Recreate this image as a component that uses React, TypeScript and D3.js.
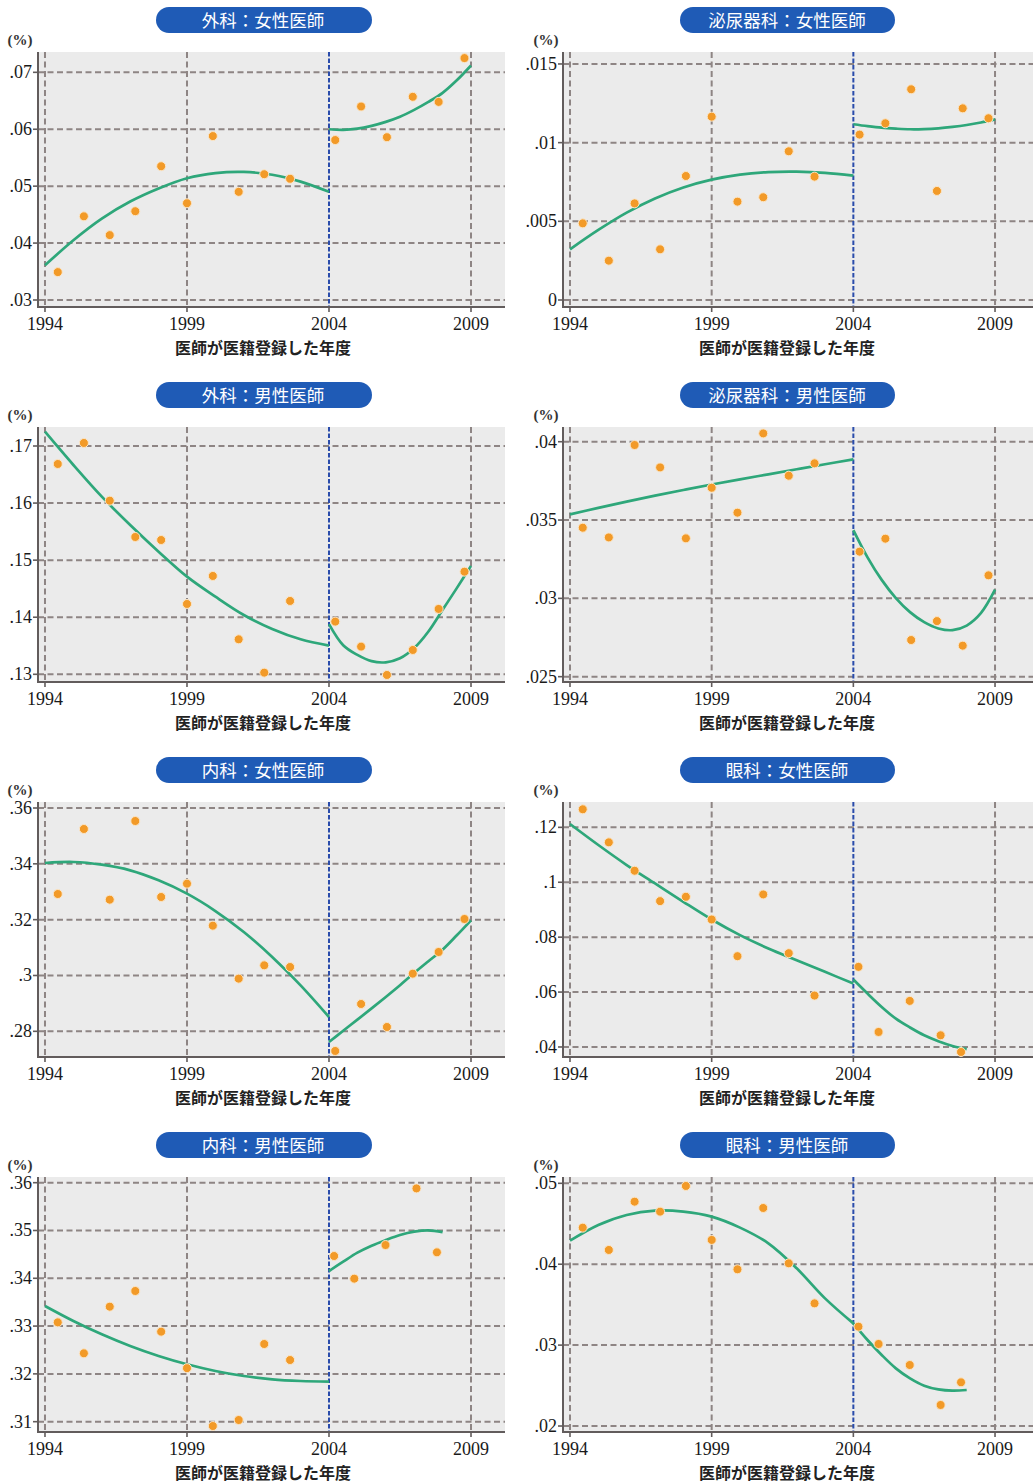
import React from "react";
import * as d3 from "d3";

// ---------- shared x positions ----------
const xPre = [1994.45, 1995.37, 1996.28, 1997.18, 1998.09, 1999.0, 1999.91, 2000.82, 2001.72, 2002.63];
const xPost6 = [2004.22, 2005.13, 2006.04, 2006.95, 2007.86, 2008.77];
const xPost5 = [2004.18, 2004.89, 2005.99, 2007.08, 2007.8];
const fitXPre = [1994, 1995, 1996, 1997, 1998, 1999, 2000, 2001, 2002, 2003, 2004];
const fitXPost6 = [2004, 2004.5, 2005, 2005.5, 2006, 2006.5, 2007, 2007.5, 2008, 2008.5, 2009];
const fitXPost5 = [2004, 2004.5, 2005, 2005.5, 2006, 2006.5, 2007, 2007.5, 2008];
const xTicks = [1994, 1999, 2004, 2009];
const breakYear = 2004;

// ---------- 外科：女性医師 ----------
const surgF_pre = [0.0349, 0.0447, 0.0414, 0.0456, 0.0535, 0.047, 0.0588, 0.049, 0.0521, 0.0513];
const surgF_post = [0.0581, 0.064, 0.0586, 0.0657, 0.0648, 0.0725];
const surgF_fitPre = [0.0361, 0.0405, 0.0443, 0.0473, 0.0496, 0.0514, 0.0523, 0.0525, 0.052, 0.0508, 0.049];
const surgF_fitPost = [0.06, 0.0599, 0.0601, 0.0606, 0.0613, 0.0622, 0.0634, 0.0648, 0.0664, 0.0686, 0.0712];
const surgF_ticks = [0.03, 0.04, 0.05, 0.06, 0.07];
const surgF_domain = [0.02877, 0.07357];

// ---------- 泌尿器科：女性医師 ----------
const uroF_pre = [0.00487, 0.0025, 0.00614, 0.00322, 0.00788, 0.01165, 0.00625, 0.00653, 0.00945, 0.00784];
const uroF_post = [0.01051, 0.01123, 0.01339, 0.00693, 0.01218, 0.01155];
const uroF_fitPre = [0.00322, 0.00445, 0.00555, 0.00645, 0.00715, 0.00765, 0.00797, 0.00813, 0.00816, 0.00808, 0.0079];
const uroF_fitPost = [0.01117, 0.01105, 0.01095, 0.01089, 0.01085, 0.01086, 0.01091, 0.011, 0.01112, 0.01128, 0.01148];
const uroF_ticks = [0, 0.005, 0.01, 0.015];
const uroF_domain = [-0.000445, 0.01576];

// ---------- 外科：男性医師 ----------
const surgM_pre = [0.16685, 0.17053, 0.16042, 0.15406, 0.15353, 0.14232, 0.14723, 0.13613, 0.13029, 0.14285];
const surgM_post = [0.13923, 0.13485, 0.12988, 0.13426, 0.14145, 0.14798];
const surgM_fitPre = [0.1725, 0.16667, 0.16112, 0.15616, 0.15149, 0.14711, 0.1436, 0.14039, 0.13794, 0.13613, 0.13502];
const surgM_fitPost = [0.1388, 0.1351, 0.1334, 0.1323, 0.1321, 0.1328, 0.1346, 0.1375, 0.1413, 0.1451, 0.149];
const surgM_ticks = [0.13, 0.14, 0.15, 0.16, 0.17];
const surgM_domain = [0.12865, 0.17333];

// ---------- 泌尿器科：男性医師 ----------
const uroM_pre = [0.03451, 0.03389, 0.03979, 0.03836, 0.03383, 0.03706, 0.03547, 0.04053, 0.03783, 0.03862];
const uroM_post = [0.03298, 0.03381, 0.02734, 0.02855, 0.02698, 0.03147];
const uroM_fitPre = [0.03536, 0.03578, 0.03618, 0.03656, 0.03692, 0.03727, 0.0376, 0.03792, 0.03824, 0.03856, 0.03887];
const uroM_fitPost = [0.03436, 0.03262, 0.03118, 0.03002, 0.02912, 0.02848, 0.02808, 0.02797, 0.02826, 0.02905, 0.03055];
const uroM_ticks = [0.025, 0.03, 0.035, 0.04];
const uroM_domain = [0.02466, 0.04094];

// ---------- 内科：女性医師 ----------
const intF_pre = [0.32919, 0.35248, 0.32716, 0.35534, 0.32812, 0.3329, 0.31785, 0.29887, 0.30364, 0.30304];
const intF_post = [0.27296, 0.28979, 0.28155, 0.30066, 0.30842, 0.32024];
const intF_fitPre = [0.3403, 0.34066, 0.3397, 0.33767, 0.33409, 0.32931, 0.3231, 0.31558, 0.30663, 0.29648, 0.28513];
const intF_fitPost = [0.27618, 0.2802, 0.28418, 0.2882, 0.2923, 0.2965, 0.3009, 0.3051, 0.30925, 0.3144, 0.31976];
const intF_ticks = [0.28, 0.3, 0.32, 0.34, 0.36];
const intF_domain = [0.2708, 0.36215];

// ---------- 眼科：女性医師 ----------
const eyeF_pre = [0.12657, 0.11453, 0.10419, 0.09313, 0.09471, 0.08644, 0.07307, 0.09556, 0.07416, 0.05872];
const eyeF_post = [0.06918, 0.04547, 0.05678, 0.04426, 0.03818];
const eyeF_fitPre = [0.12121, 0.11356, 0.10627, 0.09957, 0.09289, 0.08644, 0.08073, 0.07587, 0.07161, 0.06736, 0.0631];
const eyeF_fitPost = [0.06456, 0.05945, 0.05459, 0.05033, 0.0471, 0.04426, 0.04209, 0.04036, 0.0392];
const eyeF_ticks = [0.04, 0.06, 0.08, 0.1, 0.12];
const eyeF_domain = [0.03635, 0.12923];

// ---------- 内科：男性医師 ----------
const intM_pre = [0.33078, 0.3243, 0.33406, 0.33734, 0.32883, 0.3212, 0.30909, 0.31035, 0.32625, 0.3229];
const intM_post = [0.34466, 0.33992, 0.34696, 0.35881, 0.34543];
const intM_fitPre = [0.3342, 0.33106, 0.32827, 0.32583, 0.32374, 0.322, 0.3206, 0.31955, 0.31886, 0.31851, 0.31837];
const intM_fitPost = [0.34152, 0.34347, 0.34536, 0.34682, 0.348, 0.34905, 0.34975, 0.35003, 0.34965];
const intM_ticks = [0.31, 0.32, 0.33, 0.34, 0.35, 0.36];
const intM_domain = [0.30784, 0.36119];

// ---------- 眼科：男性医師 ----------
const eyeM_pre = [0.04452, 0.04176, 0.04773, 0.0465, 0.04967, 0.043, 0.03937, 0.04695, 0.04011, 0.03516];
const eyeM_post = [0.03228, 0.03014, 0.02754, 0.0226, 0.0254];
const eyeM_fitPre = [0.04291, 0.04485, 0.04609, 0.04662, 0.0465, 0.04588, 0.04452, 0.04258, 0.03949, 0.03578, 0.03269];
const eyeM_fitPost = [0.03269, 0.03063, 0.02878, 0.02713, 0.02589, 0.02499, 0.02453, 0.02437, 0.02445];
const eyeM_ticks = [0.02, 0.03, 0.04, 0.05];
const eyeM_domain = [0.01926, 0.05078];

const titles = [
  "外科：女性医師", "泌尿器科：女性医師",
  "外科：男性医師", "泌尿器科：男性医師",
  "内科：女性医師", "眼科：女性医師",
  "内科：男性医師", "眼科：男性医師",
];
const xAxisTitle = "医師が医籍登録した年度";
const unitLabel = "(%)";

const panels = [
  { title: titles[0], col: 0, row: 0, pre: surgF_pre, postX: xPost6, post: surgF_post, fitPre: surgF_fitPre, fitPostX: fitXPost6, fitPost: surgF_fitPost, ticks: surgF_ticks, domain: surgF_domain },
  { title: titles[1], col: 1, row: 0, pre: uroF_pre, postX: xPost6, post: uroF_post, fitPre: uroF_fitPre, fitPostX: fitXPost6, fitPost: uroF_fitPost, ticks: uroF_ticks, domain: uroF_domain },
  { title: titles[2], col: 0, row: 1, pre: surgM_pre, postX: xPost6, post: surgM_post, fitPre: surgM_fitPre, fitPostX: fitXPost6, fitPost: surgM_fitPost, ticks: surgM_ticks, domain: surgM_domain },
  { title: titles[3], col: 1, row: 1, pre: uroM_pre, postX: xPost6, post: uroM_post, fitPre: uroM_fitPre, fitPostX: fitXPost6, fitPost: uroM_fitPost, ticks: uroM_ticks, domain: uroM_domain },
  { title: titles[4], col: 0, row: 2, pre: intF_pre, postX: xPost6, post: intF_post, fitPre: intF_fitPre, fitPostX: fitXPost6, fitPost: intF_fitPost, ticks: intF_ticks, domain: intF_domain },
  { title: titles[5], col: 1, row: 2, pre: eyeF_pre, postX: xPost5, post: eyeF_post, fitPre: eyeF_fitPre, fitPostX: fitXPost5, fitPost: eyeF_fitPost, ticks: eyeF_ticks, domain: eyeF_domain },
  { title: titles[6], col: 0, row: 3, pre: intM_pre, postX: xPost5, post: intM_post, fitPre: intM_fitPre, fitPostX: fitXPost5, fitPost: intM_fitPost, ticks: intM_ticks, domain: intM_domain },
  { title: titles[7], col: 1, row: 3, pre: eyeM_pre, postX: xPost5, post: eyeM_post, fitPre: eyeM_fitPre, fitPostX: fitXPost5, fitPost: eyeM_fitPost, ticks: eyeM_ticks, domain: eyeM_domain },
];

// ---------- layout ----------
const W = 1033;
const H = 1483;
const colLeft = [38, 563];
const colRight = [505, 1033];
const colPill = [[156, 372], [680, 895]];
const colTitleX = [263, 787];
const colUnitX = [20, 546];
const rowTop = [0, 375, 750, 1125];
const plotTopOff = 52;
const plotBotOff = 307;
const xDomainByCol = [[1993.754, 2010.197], [1993.753, 2010.34]];

const fmt = (v: number) => (v === 0 ? "0" : String(+v.toFixed(4)).replace(/^0\./, "."));

const GRID = "#8e8584";
const AXIS = "#625c5c";
const BLUE = "#2a4cab";
const GREEN = "#2ea77a";
const ORANGE = "#f29a28";
const BG = "#ebebeb";
const PILL = "#1f5bb6";
const SERIF = '"Liberation Serif", "DejaVu Serif", "Times New Roman", serif';
const CJK = '"Noto Sans CJK JP", "Noto Sans", sans-serif';

const serifStyle = { fontFamily: SERIF };
const cjkStyle = { fontFamily: CJK };

function Panel({ p }: { p: (typeof panels)[number] }) {
  const top = rowTop[p.row] + plotTopOff;
  const bot = rowTop[p.row] + plotBotOff;
  const left = colLeft[p.col];
  const right = colRight[p.col];
  const x = d3.scaleLinear().domain(xDomainByCol[p.col]).range([left, right]);
  const y = d3.scaleLinear().domain(p.domain).range([bot, top]);
  const line = d3
    .line<[number, number]>()
    .x((d) => x(d[0]))
    .y((d) => y(d[1]))
    .curve(d3.curveCatmullRom.alpha(0.5));
  const preFit = fitXPre.map((v, i) => [v, p.fitPre[i]] as [number, number]);
  const postFit = p.fitPostX.map((v, i) => [v, p.fitPost[i]] as [number, number]);
  const pts = [
    ...xPre.map((v, i) => [v, p.pre[i]]),
    ...p.postX.map((v, i) => [v, p.post[i]]),
  ];
  const rt = rowTop[p.row];
  const [pl, pr] = colPill[p.col];
  return (
    <g>
      {/* title pill */}
      <rect x={pl} y={rt + 7} width={pr - pl} height={26} rx={13} ry={13} fill={PILL} />
      <text x={colTitleX[p.col]} y={rt + 26.5} textAnchor="middle" fill="#ffffff" style={cjkStyle} fontSize={17.5}>
        {p.title}
      </text>
      {/* unit */}
      <text x={colUnitX[p.col]} y={rt + 45} textAnchor="middle" style={serifStyle} fontSize={15} fontWeight="bold" fill="#333">
        {unitLabel}
      </text>
      {/* plot background */}
      <rect x={left} y={top} width={right - left} height={bot - top} fill={BG} />
      {/* horizontal grid */}
      {p.ticks.map((t) => (
        <line key={"h" + t} x1={left} x2={right} y1={y(t)} y2={y(t)} stroke={GRID} strokeWidth={2} strokeDasharray="6,3.5" />
      ))}
      {/* vertical grid */}
      {xTicks
        .filter((t) => t !== breakYear)
        .map((t) => (
          <line key={"v" + t} x1={x(t)} x2={x(t)} y1={top} y2={bot} stroke={GRID} strokeWidth={2} strokeDasharray="6,3.5" />
        ))}
      {/* break line */}
      <line x1={x(breakYear)} x2={x(breakYear)} y1={top} y2={bot} stroke={BLUE} strokeWidth={2} strokeDasharray="4.5,2" />
      {/* axes */}
      <line x1={left} x2={left} y1={top} y2={bot + 1} stroke={AXIS} strokeWidth={2} />
      <line x1={left} x2={right} y1={bot} y2={bot} stroke={AXIS} strokeWidth={2} />
      {p.ticks.map((t) => (
        <g key={"yt" + t}>
          <line x1={left - 5} x2={left} y1={y(t)} y2={y(t)} stroke={AXIS} strokeWidth={1.6} />
          <text x={left - 6} y={y(t) + 6} textAnchor="end" style={serifStyle} fontSize={18} fill="#1a1a1a">
            {fmt(t)}
          </text>
        </g>
      ))}
      {xTicks.map((t) => (
        <g key={"xt" + t}>
          <line x1={x(t)} x2={x(t)} y1={bot} y2={bot + 5} stroke={AXIS} strokeWidth={1.6} />
          <text x={x(t)} y={rt + 330} textAnchor="middle" style={serifStyle} fontSize={18} fill="#1a1a1a">
            {t}
          </text>
        </g>
      ))}
      <text x={colTitleX[p.col]} y={rt + 354} textAnchor="middle" style={cjkStyle} fontWeight="bold" fontSize={16} fill="#222">
        {xAxisTitle}
      </text>
      {/* fits */}
      <path d={line(preFit) || ""} fill="none" stroke={GREEN} strokeWidth={2.7} />
      <path d={line(postFit) || ""} fill="none" stroke={GREEN} strokeWidth={2.7} />
      {/* points */}
      {pts.map((d, i) => (
        <circle key={"p" + i} cx={x(d[0])} cy={y(d[1])} r={4.5} fill={ORANGE} stroke="#fbe6c8" strokeWidth={1} />
      ))}
    </g>
  );
}

export default function App() {
  return (
    <svg
      width={W}
      height={H}
      style={{ position: "absolute", left: 0, top: 0, background: "#ffffff" }}
      xmlns="http://www.w3.org/2000/svg"
    >
      <rect x={0} y={0} width={W} height={H} fill="#ffffff" />
      {panels.map((p, i) => (
        <Panel key={i} p={p} />
      ))}
    </svg>
  );
}
